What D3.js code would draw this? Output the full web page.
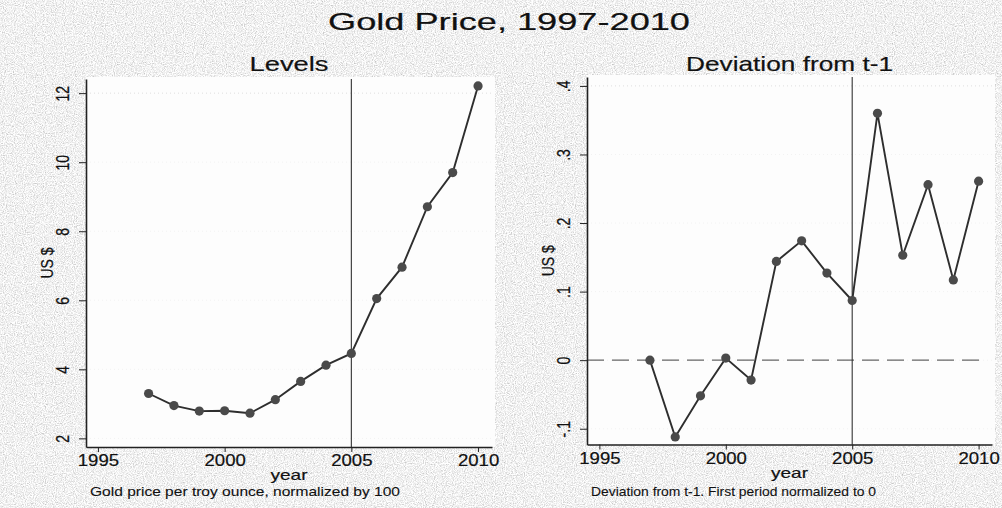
<!DOCTYPE html>
<html>
<meta charset="utf-8">
<script src="https://d3js.org/d3.v7.js"></script>
<style>
  body { margin: 0; background: #e2e2e2; }
  text { font-family: "Liberation Sans", Arial, Helvetica, sans-serif; fill: #111; stroke: #111; stroke-width: 0.2px; }
</style>
<body>
  <div id="my_dataviz"></div>
</body>
<script type="text/javascript">

  // values
  var years = [1997, 1998, 1999, 2000, 2001, 2002, 2003, 2004, 2005, 2006, 2007, 2008, 2009, 2010]
  var levels = [3.30, 2.95, 2.79, 2.80, 2.73, 3.12, 3.65, 4.12, 4.46, 6.05, 6.96, 8.71, 9.70, 12.21]
  var deviation = [0, -0.112, -0.052, 0.003, -0.029, 0.144, 0.174, 0.127, 0.087, 0.360, 0.153, 0.256, 0.117, 0.261]
  var yearTicks = [1995, 2000, 2005, 2010]
  var levelTicks = [2, 4, 6, 8, 10, 12]
  var devTicks = [-0.1, 0, 0.1, 0.2, 0.3, 0.4]
  var devTickLabels = ["-.1", "0", ".1", ".2", ".3", ".4"]
  var breakYear = 2005

  var width = 1002, height = 508

  var svg = d3.select("#my_dataviz")
    .append("svg")
      .attr("width", width)
      .attr("height", height)

  // grainy scanned-paper background
  var grain = svg.append("defs").append("filter")
    .attr("id", "grain")
    .attr("x", 0).attr("y", 0).attr("width", 1).attr("height", 1)
  grain.append("feTurbulence")
    .attr("type", "fractalNoise")
    .attr("baseFrequency", 0.9)
    .attr("numOctaves", 2)
    .attr("seed", 4)
  grain.append("feColorMatrix")
    .attr("type", "matrix")
    .attr("values", "1 0 0 0 0  1 0 0 0 0  1 0 0 0 0  0 0 0 0 1")
  var ct = grain.append("feComponentTransfer")
  ;["feFuncR", "feFuncG", "feFuncB"].forEach(function(f) {
    ct.append(f).attr("type", "linear").attr("slope", 0.9).attr("intercept", 0.43)
  })

  svg.append("rect")
    .attr("width", width)
    .attr("height", height)
    .attr("fill", "#e2e2e2")
    .attr("filter", "url(#grain)")

  // stretch text sideways to a given width (the scan is wider than tall)
  function fitWidth(sel, w) {
    sel.attr("textLength", w).attr("lengthAdjust", "spacingAndGlyphs")
  }
  function stretch(sel, k) {
    sel.each(function() {
      var len = this.getComputedTextLength()
      d3.select(this).attr("textLength", len * k).attr("lengthAdjust", "spacingAndGlyphs")
    })
  }

  svg.append("text")
    .attr("x", 509)
    .attr("y", 30)
    .attr("text-anchor", "middle")
    .style("font-size", "24px")
    .text("Gold Price, 1997-2010")
    .call(fitWidth, 362)

  function drawPanel(p) {
    var x = d3.scaleLinear().domain(p.xDomain).range([p.left, p.right])
    var y = d3.scaleLinear().domain(p.yDomain).range([p.bottom, p.top])
    var g = svg.append("g")

    // plot region
    g.append("rect")
      .attr("x", p.left)
      .attr("y", p.top - 2)
      .attr("width", p.right - p.left + 3)
      .attr("height", p.bottom - p.top + 2)
      .attr("fill", "#fdfdfd")

    // faint grid, only the top one survives the scan
    g.selectAll(".grid")
      .data(p.yTicks)
      .enter()
      .append("line")
        .attr("x1", p.left)
        .attr("x2", p.right)
        .attr("y1", function(d) { return y(d) })
        .attr("y2", function(d) { return y(d) })
        .attr("stroke", function(d, i) { return i === p.yTicks.length - 1 ? "#dedede" : "#f2f2f2" })
        .attr("stroke-width", 1)
        .attr("stroke-dasharray", "1,3")

    if (p.zeroLine) {
      g.append("line")
        .attr("x1", p.left)
        .attr("x2", p.right - 6)
        .attr("y1", y(0))
        .attr("y2", y(0))
        .attr("stroke", "#666")
        .attr("stroke-width", 1.2)
        .attr("stroke-dasharray", "17,8")
    }

    g.append("line")
      .attr("x1", x(breakYear))
      .attr("x2", x(breakYear))
      .attr("y1", p.top)
      .attr("y2", p.bottom)
      .attr("stroke", "#333")
      .attr("stroke-width", 1.1)

    // x axis
    var xa = g.append("g")
      .attr("transform", "translate(0," + p.bottom + ")")
      .call(d3.axisBottom(x).tickValues(yearTicks).tickFormat(d3.format("d")).tickSize(5).tickSizeOuter(0))
    xa.select(".domain").attr("stroke", "#222").attr("stroke-width", 1.6)
    xa.selectAll("line").attr("stroke", "#222")
    xa.selectAll("text")
      .attr("y", 19)
      .attr("dy", 0)
      .style("font-size", "16px")
      .attr("fill", "#111")
      .call(stretch, 1.16)

    // y axis
    var ya = g.append("g")
      .attr("transform", "translate(" + p.left + ",0)")
      .call(d3.axisLeft(y).tickValues(p.yTicks).tickFormat(function(d, i) { return p.yLabels[i] }).tickSize(7).tickSizeOuter(0))
    ya.select(".domain").attr("stroke", "#222").attr("stroke-width", 1.6)
    ya.selectAll("line").attr("stroke", "#222")
    ya.selectAll("text")
      .attr("x", 0)
      .attr("dy", 0)
      .attr("text-anchor", "middle")
      .attr("transform", "translate(-17,0) scale(1.3,1) rotate(-90)")
      .style("font-size", "14px")
      .attr("fill", "#111")

    // axis titles
    g.append("text")
      .attr("text-anchor", "middle")
      .attr("transform", "translate(" + (p.left - 33) + "," + ((p.top + p.bottom) / 2) + ") scale(1.2,1) rotate(-90)")
      .style("font-size", "14px")
      .text("US $")

    g.append("text")
      .attr("x", (p.left + p.right) / 2)
      .attr("y", p.bottom + 33)
      .attr("text-anchor", "middle")
      .style("font-size", "15px")
      .text("year")
      .call(fitWidth, 37)

    g.append("text")
      .attr("x", (p.left + p.right) / 2)
      .attr("y", 71)
      .attr("text-anchor", "middle")
      .style("font-size", "21px")
      .text(p.title)
      .call(fitWidth, p.titleWidth)

    g.append("text")
      .attr("x", p.left + 4)
      .attr("y", 496)
      .style("font-size", "13px")
      .style("stroke-width", "0.1px")
      .text(p.note)
      .call(fitWidth, p.noteWidth)

    // series
    var line = d3.line()
      .x(function(d, i) { return x(years[i]) })
      .y(function(d) { return y(d) })

    g.append("path")
      .datum(p.values)
      .attr("fill", "none")
      .attr("stroke", "#2e2e2e")
      .attr("stroke-width", 1.9)
      .attr("d", line)

    g.selectAll(".dot")
      .data(p.values)
      .enter()
      .append("circle")
        .attr("cx", function(d, i) { return x(years[i]) })
        .attr("cy", function(d) { return y(d) })
        .attr("r", 4.6)
        .attr("fill", "#4a4a4a")
  }

  drawPanel({
    left: 86, right: 492, top: 79, bottom: 447,
    xDomain: [1994.53, 2010.55], yDomain: [1.75, 12.41],
    yTicks: levelTicks, yLabels: levelTicks.map(String),
    values: levels, zeroLine: false,
    title: "Levels", titleWidth: 79,
    note: "Gold price per troy ounce, normalized by 100", noteWidth: 310
  })

  drawPanel({
    left: 587, right: 992, top: 77, bottom: 444.5,
    xDomain: [1994.51, 2010.53], yDomain: [-0.123, 0.413],
    yTicks: devTicks, yLabels: devTickLabels,
    values: deviation, zeroLine: true,
    title: "Deviation from t-1", titleWidth: 207,
    note: "Deviation from t-1. First period normalized to 0", noteWidth: 285
  })

</script>
</html>
